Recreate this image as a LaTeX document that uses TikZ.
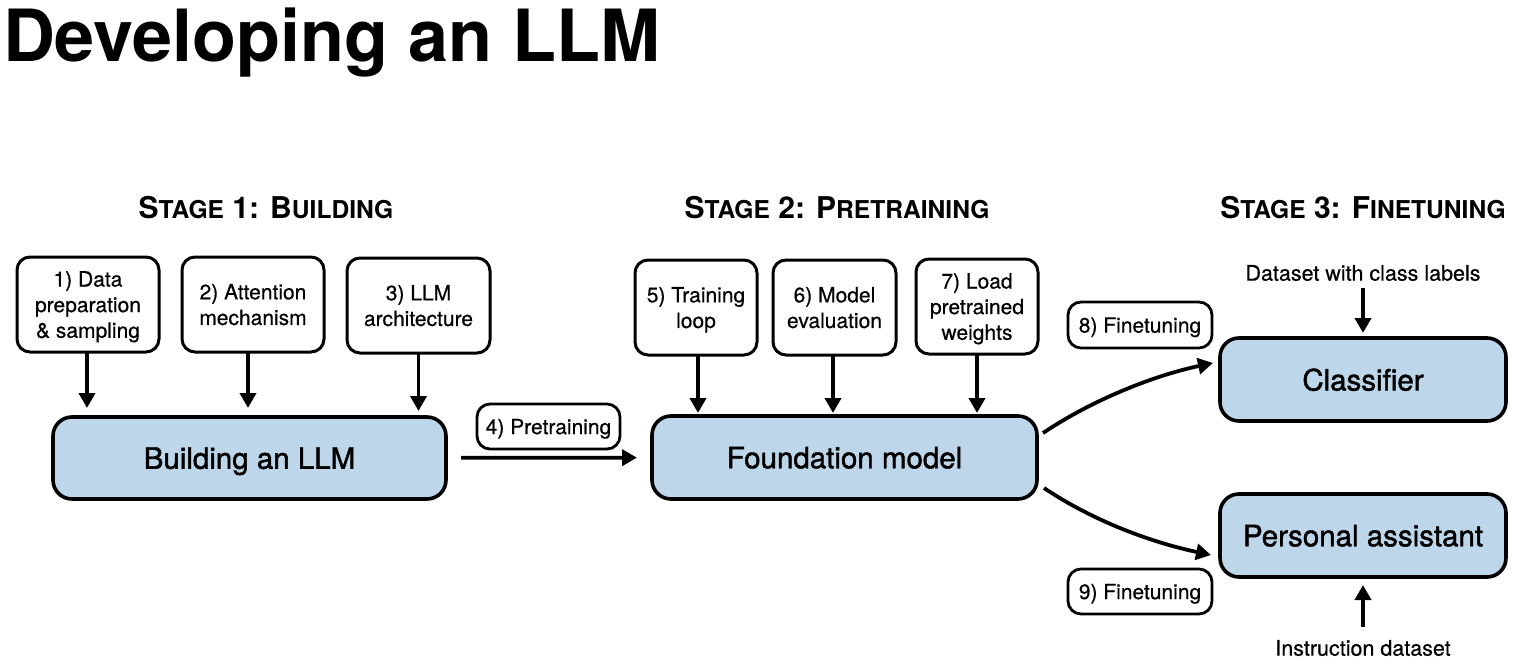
\documentclass[tikz,border=0pt]{standalone}
\usepackage{fontspec}
\setmainfont{TeX Gyre Heros}
\newfontfamily\medfont[FakeBold=1.5]{TeX Gyre Heros}
\newfontfamily\txtfont[FakeBold=0.5]{TeX Gyre Heros}
\usetikzlibrary{arrows.meta,calc}
\definecolor{boxblue}{RGB}{189,214,233}
\newcommand{\fsz}[1]{\fontsize{#1}{#1}\selectfont}
\newcommand{\stg}[2]{{\fsz{30}\bfseries #1}{\fsz{24.6}\bfseries #2}}
\newcommand{\stsp}{{\fsz{30}\ }}
\begin{document}
\begin{tikzpicture}[x=1pt,y=-1pt,
  every node/.style={inner sep=0pt,outer sep=0pt},
  smallbox/.style={draw,line width=3pt,rounded corners=13pt,align=center,text depth=0pt,
    font=\txtfont\fsz{21}\linespread{1.22}\selectfont},
  bigbox/.style={draw,line width=3.6pt,rounded corners=19pt,fill=boxblue,align=center,
    text depth=0pt,font=\medfont\fsz{29.5}\selectfont},
  lbl/.style={draw,line width=2.8pt,rounded corners=13pt,align=center,text depth=0pt,
    font=\txtfont\fsz{21}\selectfont},
  plain/.style={font=\txtfont\fsz{21.5}\selectfont},
  arr/.style={line width=3.8pt,-{Triangle[length=15pt,width=16pt]}},
  hdr/.style={anchor=base}
]
\useasboundingbox (0,0) rectangle (1519,672);

% title
\node[anchor=base west] (title) at (3,61) {\fsz{72}\bfseries Developing an LLM};

% stage headers
\node[hdr] (h1) at (266,218) {\stg{S}{TAGE}\stsp\stg{1: B}{UILDING}};
\node[hdr] (h2) at (837,218) {\stg{S}{TAGE}\stsp\stg{2: P}{RETRAINING}};
\node[hdr] (h3) at (1363,218) {\stg{S}{TAGE}\stsp\stg{3: F}{INETUNING}};

% stage 1
\node[smallbox,minimum width=142,minimum height=95] (b1) at (88,304.5) {1) Data\\preparation\\\&\ sampling};
\node[smallbox,minimum width=142,minimum height=95] (b2) at (253,304.5) {2) Attention\\mechanism};
\node[smallbox,minimum width=143,minimum height=95] (b3) at (418.5,305.5) {3) LLM\\architecture};
\node[bigbox,minimum width=393,minimum height=82] (bl) at (249.5,458) {Building an LLM};

\draw[arr,shorten >=9pt] ([xshift=-1pt]b1.south) -- ([xshift=-1pt]b1.south |- bl.north);
\draw[arr,shorten >=9pt] ([xshift=-5pt]b2.south) -- ([xshift=-5pt]b2.south |- bl.north);
\draw[arr,shorten >=6pt] (b3.south) -- (b3.south |- bl.north);

% stage 2
\node[lbl,minimum width=143,minimum height=45] (l4) at (548.5,426.5) {4) Pretraining};
\node[bigbox,minimum width=385,minimum height=83] (fm) at (844.5,457.5) {Foundation model};
\node[smallbox,minimum width=122,minimum height=95] (b5) at (696,307.5) {5) Training\\loop};
\node[smallbox,minimum width=123,minimum height=95] (b6) at (834.5,307.5) {6) Model\\evaluation};
\node[smallbox,minimum width=122,minimum height=95] (b7) at (977,306.5) {7) Load\\pretrained\\weights};

\draw[arr,shorten <=15pt,shorten >=15pt] (bl) -- (fm);
\draw[arr,shorten >=3pt] ([xshift=2pt]b5.south) -- ([xshift=2pt]b5.south |- fm.north);
\draw[arr,shorten >=3pt] ([xshift=-1.5pt]b6.south) -- ([xshift=-1.5pt]b6.south |- fm.north);
\draw[arr,shorten >=3pt] (b7.south) -- (b7.south |- fm.north);

% stage 3
\node[lbl,minimum width=144,minimum height=46] (l8) at (1140,325) {8) Finetuning};
\node[lbl,minimum width=144,minimum height=45] (l9) at (1140,591.5) {9) Finetuning};
\node[bigbox,minimum width=286,minimum height=83] (cl) at (1363,379.5) {Classifier};
\node[bigbox,minimum width=286,minimum height=83] (pa) at (1363,535.5) {Personal assistant};
\node[plain] (ds) at (1363,273) {Dataset with class labels};
\node[plain] (id) at (1363,648) {Instruction dataset};

\draw[arr,shorten <=7pt,shorten >=5pt] (ds) -- (cl);
\draw[arr,shorten <=13pt,shorten >=8pt] (id) -- (pa);

\coordinate (s8) at ($(fm.east)+(6,-24.5)$);
\coordinate (e8) at ($(cl.west)+(-7,-16.5)$);
\coordinate (s9) at ($(fm.east)+(7,30.5)$);
\coordinate (e9) at ($(pa.west)+(-9,19.5)$);
\draw[arr] (s8) .. controls ($(s8)+(50,-33.5)$) and ($(e8)+(-59,12.5)$) .. (e8);
\draw[arr] (s9) .. controls ($(s9)+(50,33.5)$) and ($(e9)+(-59,-12.5)$) .. (e9);
\end{tikzpicture}
\end{document}
